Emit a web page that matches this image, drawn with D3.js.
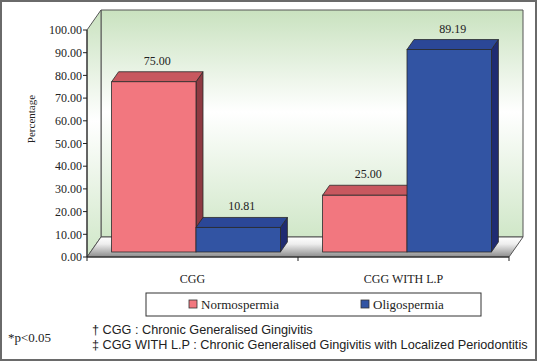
<!DOCTYPE html>
<html>
<head>
<meta charset="utf-8">
<script src="https://cdn.jsdelivr.net/npm/d3@7"></script>
<style>
  body { margin: 0; background: #fff; }
  svg { display: block; }
</style>
</head>
<body>
<svg id="chart" width="538" height="362"></svg>
<script>
/* global d3 */

// data
var categories = ['CGG', 'CGG WITH L.P']
var seriesNames = ['Normospermia', 'Oligospermia']
var normospermia = [75.00, 25.00]
var oligospermia = [10.81, 89.19]
var yTicks = [0, 10, 20, 30, 40, 50, 60, 70, 80, 90, 100]
var footnotes = [
  '\u2020 CGG : Chronic Generalised Gingivitis',
  '\u2021 CGG WITH L.P : Chronic Generalised Gingivitis with Localized Periodontitis'
]

;(function () {
  var svg = d3.select('#chart')
  var serif = '"Liberation Serif", "Times New Roman", serif'
  var sans = '"Liberation Sans", Arial, sans-serif'

  // layout
  var left = 87
  var right = 509
  var bottom = 257
  var top = 30
  var depth = {x: 14, y: -20}
  var barFront = 0.25 // fraction of the depth where the bar faces start
  var barDepth = 0.5

  var colors = {
    Normospermia: {front: '#f2777f', top: '#c8585f', side: '#8e3a42'},
    Oligospermia: {front: '#3254a3', top: '#2b4797', side: '#1f2b72'}
  }

  var x0 = d3.scaleBand()
    .domain(categories)
    .range([left, right])
    .paddingInner(0.2)
    .paddingOuter(0.1)

  var x1 = d3.scaleBand()
    .domain(seriesNames)
    .range([0, x0.bandwidth()])

  var y = d3.scaleLinear()
    .domain([0, 100])
    .range([bottom, top])

  var defs = svg.append('defs')

  var wallGrad = defs.append('linearGradient')
    .attr('id', 'wall').attr('x1', 0).attr('y1', 0).attr('x2', 0).attr('y2', 1)
  wallGrad.append('stop').attr('offset', '0%').attr('stop-color', '#c9e2bf')
  wallGrad.append('stop').attr('offset', '45%').attr('stop-color', '#ffffff')
  wallGrad.append('stop').attr('offset', '100%').attr('stop-color', '#d0e7c8')

  var floorGrad = defs.append('linearGradient')
    .attr('id', 'floor').attr('x1', 0).attr('y1', 0).attr('x2', 0).attr('y2', 1)
  floorGrad.append('stop').attr('offset', '0%').attr('stop-color', '#ffffff')
  floorGrad.append('stop').attr('offset', '35%').attr('stop-color', '#eeeeee')
  floorGrad.append('stop').attr('offset', '100%').attr('stop-color', '#8c8c8c')

  // outer frame
  svg.append('rect')
    .attr('x', 1).attr('y', 1).attr('width', 535).attr('height', 359)
    .attr('fill', 'none').attr('stroke', '#6a6a6a').attr('stroke-width', 2)

  var pts = p => p.map(d => d.join(',')).join(' ')

  // back wall
  svg.append('polygon')
    .attr('points', pts([
      [left + depth.x, y(100) + depth.y], [right + depth.x, y(100) + depth.y],
      [right + depth.x, bottom + depth.y], [left + depth.x, bottom + depth.y]
    ]))
    .attr('fill', 'url(#wall)').attr('stroke', '#555').attr('stroke-width', 1)

  // side wall
  svg.append('polygon')
    .attr('points', pts([
      [left, y(100)], [left + depth.x, y(100) + depth.y],
      [left + depth.x, bottom + depth.y], [left, bottom]
    ]))
    .attr('fill', 'url(#wall)').attr('stroke', '#555').attr('stroke-width', 1)

  // floor
  svg.append('polygon')
    .attr('points', pts([
      [left, bottom], [left + depth.x, bottom + depth.y],
      [right + depth.x, bottom + depth.y], [right, bottom]
    ]))
    .attr('fill', 'url(#floor)').attr('stroke', '#555').attr('stroke-width', 1)

  // bars
  var rows = []
  categories.forEach((c, i) => {
    rows.push({cat: c, series: 'Normospermia', value: normospermia[i]})
    rows.push({cat: c, series: 'Oligospermia', value: oligospermia[i]})
  })

  var fx = depth.x * barFront
  var fy = depth.y * barFront
  var bx = depth.x * barDepth
  var by = depth.y * barDepth

  var bars = svg.append('g').selectAll('.bar')
    .data(rows)
    .enter()
    .append('g')
    .classed('bar', true)

  bars.each(function (d) {
    var g = d3.select(this)
    var x = x0(d.cat) + x1(d.series) + fx
    var w = x1.bandwidth()
    var yb = bottom + fy
    var yt = y(d.value) + fy
    var c = colors[d.series]

    g.append('polygon')
      .attr('points', pts([[x + w, yt], [x + w + bx, yt + by], [x + w + bx, yb + by], [x + w, yb]]))
      .attr('fill', c.side).attr('stroke', '#2a2a2a').attr('stroke-width', 0.8)
    g.append('polygon')
      .attr('points', pts([[x, yt], [x + bx, yt + by], [x + w + bx, yt + by], [x + w, yt]]))
      .attr('fill', c.top).attr('stroke', '#2a2a2a').attr('stroke-width', 0.8)
    g.append('rect')
      .attr('x', x).attr('y', yt).attr('width', w).attr('height', yb - yt)
      .attr('fill', c.front).attr('stroke', '#2a2a2a').attr('stroke-width', 0.8)

    g.append('text')
      .attr('x', x + w / 2 + bx / 2)
      .attr('y', yt + by - 7)
      .attr('text-anchor', 'middle')
      .style('font-family', serif).style('font-size', '12px').style('fill', '#222')
      .text(d.value.toFixed(2))
  })

  // y axis
  var yAxis = svg.append('g')
  yAxis.append('line')
    .attr('x1', left).attr('x2', left).attr('y1', bottom).attr('y2', y(100))
    .attr('stroke', '#222')
  yAxis.selectAll('.tick')
    .data(yTicks)
    .enter()
    .append('g')
    .each(function (t) {
      var g = d3.select(this)
      g.append('line')
        .attr('x1', left - 4).attr('x2', left).attr('y1', y(t)).attr('y2', y(t))
        .attr('stroke', '#222')
      g.append('text')
        .attr('x', left - 5).attr('y', y(t)).attr('dy', '0.35em')
        .attr('text-anchor', 'end')
        .style('font-family', serif).style('font-size', '12px').style('fill', '#222')
        .text(t.toFixed(2))
    })

  svg.append('text')
    .attr('transform', 'translate(35,119) rotate(-90)')
    .attr('text-anchor', 'middle')
    .style('font-family', serif).style('font-size', '11px').style('fill', '#222')
    .text('Percentage')

  // x axis
  var xAxis = svg.append('g')
  xAxis.append('line')
    .attr('x1', left).attr('x2', right).attr('y1', bottom).attr('y2', bottom)
    .attr('stroke', '#222')
  xAxis.selectAll('.xtick')
    .data([left, (left + right) / 2, right])
    .enter()
    .append('line')
    .attr('x1', d => d).attr('x2', d => d)
    .attr('y1', bottom).attr('y2', bottom + 4)
    .attr('stroke', '#222')
  xAxis.selectAll('.xlabel')
    .data(categories)
    .enter()
    .append('text')
    .attr('x', d => x0(d) + x0.bandwidth() / 2)
    .attr('y', 283)
    .attr('text-anchor', 'middle')
    .style('font-family', serif).style('font-size', '12px').style('fill', '#222')
    .text(d => d)

  // legend
  svg.append('rect')
    .attr('x', 146).attr('y', 293).attr('width', 335).attr('height', 23)
    .attr('fill', '#fff').attr('stroke', '#333').attr('stroke-width', 1)
  var legendX = [189, 361]
  seriesNames.forEach((s, i) => {
    svg.append('rect')
      .attr('x', legendX[i]).attr('y', 300).attr('width', 8).attr('height', 8)
      .attr('fill', colors[s].front).attr('stroke', '#333').attr('stroke-width', 0.8)
    svg.append('text')
      .attr('x', legendX[i] + 12).attr('y', 309)
      .style('font-family', serif).style('font-size', '13px').style('fill', '#222')
      .text(s)
  })

  // notes
  svg.append('text')
    .attr('x', 8).attr('y', 342)
    .style('font-family', serif).style('font-size', '13px').style('fill', '#222')
    .text('*p<0.05')

  svg.selectAll('.note')
    .data(footnotes)
    .enter()
    .append('text')
    .attr('x', 92)
    .attr('y', (d, i) => 334 + i * 15)
    .style('font-family', sans).style('font-size', '12.7px').style('fill', '#222')
    .text(d => d)
})()
</script>
</body>
</html>
